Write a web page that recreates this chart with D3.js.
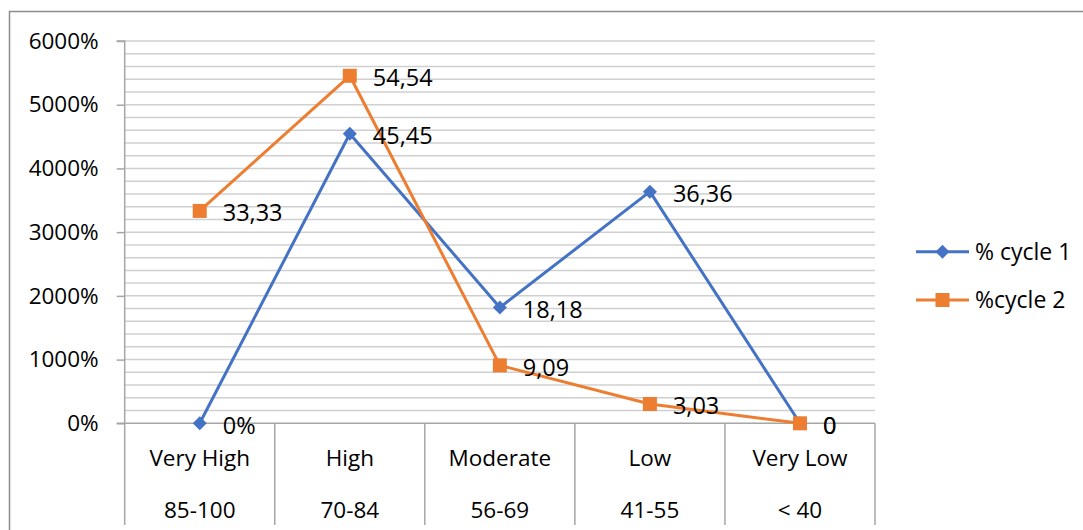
<!DOCTYPE html>
<html>
<head>
<meta charset="utf-8">
<script src="https://cdn.jsdelivr.net/npm/d3@7/dist/d3.min.js"></script>
<style>
  html, body { margin: 0; padding: 0; background: #fff; }
  svg { display: block; }
  text { font-family: "Open Sans", "Noto Sans", sans-serif; fill: #000; }
</style>
</head>
<body>
<svg id="chart" width="1083" height="530"></svg>
<script>
const categories = ["Very High", "High", "Moderate", "Low", "Very Low"];
const ranges = ["85-100", "70-84", "56-69", "41-55", "< 40"];
const cycle1 = [0, 45.45, 18.18, 36.36, 0];
const cycle2 = [33.33, 54.54, 9.09, 3.03, 0];
const cycle1Labels = ["0%", "45,45", "18,18", "36,36", "0"];
const cycle2Labels = ["33,33", "54,54", "9,09", "3,03", "0"];
const seriesNames = ["% cycle 1", "%cycle 2"];
const yTicks = [0, 10, 20, 30, 40, 50, 60];
const yGrid = d3.range(0, 61, 2);

const blue = "#4472C4", orange = "#ED7D31";
const svg = d3.select("#chart");

// outer chart border
svg.append("path").attr("d", "M9.5,530 V11.5 H1083").attr("fill", "none").attr("stroke", "#8c8c8c").attr("stroke-width", 1.5);

const pLeft = 124.7, pRight = 875, pTop = 41, pBottom = 423.3;
const x = d3.scaleBand().domain(categories).range([pLeft, pRight]);
const y = d3.scaleLinear().domain([0, 60]).range([pBottom, pTop]);

// gridlines
svg.append("g").selectAll("line").data(yGrid.filter(d => d > 0)).join("line")
  .attr("x1", pLeft).attr("x2", pRight)
  .attr("y1", d => y(d)).attr("y2", d => y(d))
  .attr("stroke", "#d0d0d0").attr("stroke-width", 1.5);

// y axis
const yAxis = d3.axisLeft(y).tickValues(yTicks).tickSize(8).tickPadding(18)
  .tickFormat(d => (d * 100) + "%");
const ga = svg.append("g").attr("transform", `translate(${pLeft},0)`).call(yAxis);
ga.select(".domain").attr("stroke", "#a6a6a6").attr("stroke-width", 1.5).attr("d", `M-8,${pTop}H0V${pBottom}`);
ga.selectAll(".tick line").attr("stroke", "#a6a6a6").attr("stroke-width", 1.5);
ga.selectAll(".tick text").attr("font-size", 22.5).attr("fill", "#000")
  .style("font-family", '"Open Sans", sans-serif');

// x axis (baseline)
svg.append("line").attr("x1", pLeft - 8).attr("x2", pRight).attr("y1", pBottom).attr("y2", pBottom)
  .attr("stroke", "#a6a6a6").attr("stroke-width", 1.5);
// category dividers
const divs = categories.map(c => x(c)).concat([pRight]);
svg.append("g").selectAll("line").data(divs).join("line")
  .attr("x1", d => d).attr("x2", d => d).attr("y1", pBottom).attr("y2", 525)
  .attr("stroke", "#a6a6a6").attr("stroke-width", 1.5);

const cx = c => x(c) + x.bandwidth() / 2;
svg.append("g").selectAll("text").data(categories).join("text")
  .attr("x", d => cx(d)).attr("y", 458).attr("dy", "0.35em")
  .attr("text-anchor", "middle").attr("font-size", 22.5).text(d => d);
svg.append("g").selectAll("text").data(ranges).join("text")
  .attr("x", (d, i) => cx(categories[i])).attr("y", 510).attr("dy", "0.35em")
  .attr("text-anchor", "middle").attr("font-size", 22.5).text(d => d);

const line = d3.line().x((d, i) => cx(categories[i])).y(d => y(d));

function drawSeries(vals, color, shape) {
  const g = svg.append("g");
  g.append("path").datum(vals).attr("d", line).attr("fill", "none")
    .attr("stroke", color).attr("stroke-width", 3).attr("stroke-linejoin", "round");
  g.selectAll("path.m").data(vals).join("path").attr("class", "m")
    .attr("transform", (d, i) => `translate(${cx(categories[i])},${y(d)})`)
    .attr("d", shape).attr("fill", color);
  return g;
}
const diamond = "M0,-7L7,0L0,7L-7,0Z";
const square = "M-7,-7H7V7H-7Z";
drawSeries(cycle1, blue, diamond);
drawSeries(cycle2, orange, square);

// data labels
function drawLabels(vals, labels) {
  svg.append("g").selectAll("text").data(vals).join("text")
    .attr("x", (d, i) => cx(categories[i]) + 23)
    .attr("y", d => y(d) + 2).attr("dy", "0.35em")
    .attr("font-size", 23.5).text((d, i) => labels[i]);
}
drawLabels(cycle1, cycle1Labels);
drawLabels(cycle2, cycle2Labels);

// legend
const legend = svg.append("g");
const legendY = [251.7, 300];
const shapes = [diamond, square];
const colors = [blue, orange];
seriesNames.forEach((n, i) => {
  const g = legend.append("g").attr("transform", `translate(0,${legendY[i]})`);
  g.append("line").attr("x1", 916).attr("x2", 969).attr("stroke", colors[i]).attr("stroke-width", 3);
  g.append("path").attr("transform", "translate(942.5,0)").attr("d", shapes[i]).attr("fill", colors[i]);
  g.append("text").attr("x", 975).attr("dy", "0.35em").attr("font-size", 23).text(n);
});
</script>
</body>
</html>
